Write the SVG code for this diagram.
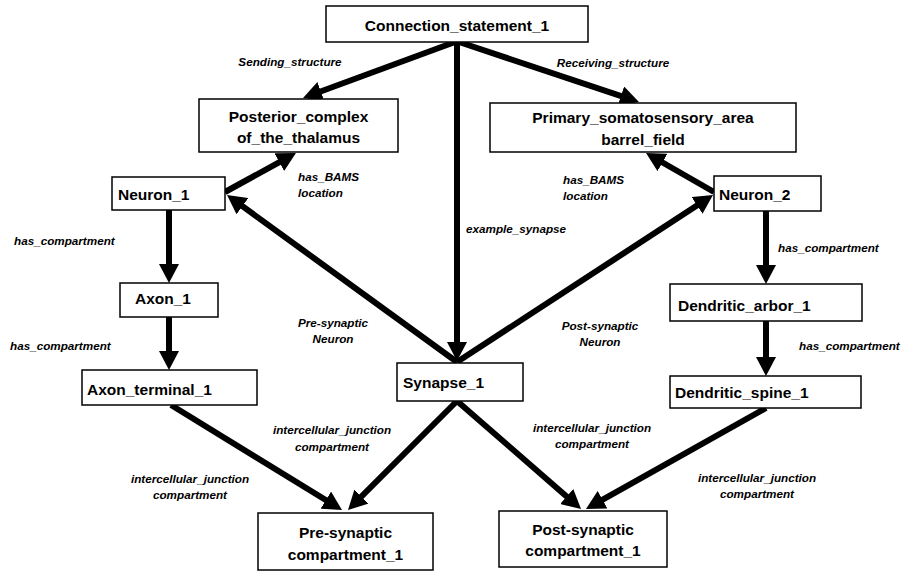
<svg xmlns="http://www.w3.org/2000/svg" width="902" height="572" viewBox="0 0 902 572">
<style>
.box{fill:#fff;stroke:#000;stroke-width:1.5}
.nt{font-family:"Liberation Sans",Arial,sans-serif;font-weight:bold;font-size:15.5px;fill:#000}
.c{text-anchor:middle}
.el{font-family:"Liberation Sans",Arial,sans-serif;font-weight:bold;font-style:italic;font-size:11.7px;fill:#000}
.e{stroke:#000;stroke-width:6;fill:none;marker-end:url(#ah)}
</style>
<defs>
<marker id="ah" markerUnits="userSpaceOnUse" markerWidth="20" markerHeight="20" refX="9" refY="10" orient="auto">
<path d="M0,0 L19,10 L0,20 z" fill="#000"/>
</marker>
</defs>
<g id="connectors">
<line class="e" x1="455" y1="42" x2="312.4" y2="94.5"/>
<line class="e" x1="459" y1="42" x2="629.5" y2="98.8"/>
<line class="e" x1="457" y1="42" x2="457" y2="351"/>
<line class="e" x1="225" y1="192" x2="287.2" y2="157.8"/>
<line class="e" x1="457" y1="362" x2="235.1" y2="200.9"/>
<line class="e" x1="714" y1="192" x2="654.7" y2="158"/>
<line class="e" x1="457" y1="362" x2="704.6" y2="200.5"/>
<line class="e" x1="169" y1="210" x2="169" y2="273"/>
<line class="e" x1="169" y1="317" x2="169" y2="360"/>
<line class="e" x1="766" y1="211" x2="766" y2="274"/>
<line class="e" x1="766" y1="321" x2="766" y2="366"/>
<line class="e" x1="171" y1="405" x2="333.5" y2="504.8"/>
<line class="e" x1="457" y1="401" x2="355.1" y2="502.9"/>
<line class="e" x1="457" y1="401" x2="573.5" y2="502.4"/>
<line class="e" x1="766" y1="408" x2="594.7" y2="504.1"/>
<text class="el c" x="290" y="66">Sending_structure</text>
<text class="el c" x="613" y="67">Receiving_structure</text>
<text class="el" x="298" y="181">has_BAMS</text>
<text class="el" x="298" y="197">location</text>
<text class="el" x="563" y="184">has_BAMS</text>
<text class="el" x="563" y="200">location</text>
<text class="el" x="466" y="233">example_synapse</text>
<text class="el" x="14" y="245">has_compartment</text>
<text class="el" x="10" y="350">has_compartment</text>
<text class="el" x="778" y="252">has_compartment</text>
<text class="el" x="799" y="350">has_compartment</text>
<text class="el c" x="333" y="327">Pre-synaptic</text>
<text class="el c" x="333" y="343">Neuron</text>
<text class="el c" x="600" y="330">Post-synaptic</text>
<text class="el c" x="600" y="346">Neuron</text>
<text class="el c" x="332" y="434">intercellular_junction</text>
<text class="el c" x="332" y="451">compartment</text>
<text class="el c" x="190" y="483">intercellular_junction</text>
<text class="el c" x="190" y="499">compartment</text>
<text class="el c" x="592" y="432">intercellular_junction</text>
<text class="el c" x="592" y="448">compartment</text>
<text class="el c" x="757" y="482">intercellular_junction</text>
<text class="el c" x="757" y="498">compartment</text>
</g>
<g id="connection_statement_1">
<rect class="box" x="326" y="6" width="262" height="36"/>
<text class="nt c" x="457" y="31">Connection_statement_1</text>
</g>
<g id="posterior_complex">
<rect class="box" x="199" y="99" width="199" height="53"/>
<text class="nt c" x="298.5" y="122">Posterior_complex</text>
<text class="nt c" x="298.5" y="143">of_the_thalamus</text>
</g>
<g id="primary_somatosensory">
<rect class="box" x="490" y="103" width="306" height="49"/>
<text class="nt c" x="643" y="123">Primary_somatosensory_area</text>
<text class="nt c" x="643" y="145">barrel_field</text>
</g>
<g id="neuron_1">
<rect class="box" x="112" y="177" width="113" height="33"/>
<text class="nt" x="118" y="200">Neuron_1</text>
</g>
<g id="neuron_2">
<rect class="box" x="714" y="176" width="107" height="35"/>
<text class="nt" x="719" y="200">Neuron_2</text>
</g>
<g id="axon_1">
<rect class="box" x="120" y="283" width="98" height="34"/>
<text class="nt" x="135" y="304">Axon_1</text>
</g>
<g id="axon_terminal_1">
<rect class="box" x="82" y="370" width="175" height="35"/>
<text class="nt" x="87" y="395">Axon_terminal_1</text>
</g>
<g id="synapse_1">
<rect class="box" x="397" y="363" width="126" height="38"/>
<text class="nt" x="403" y="388">Synapse_1</text>
</g>
<g id="dendritic_arbor_1">
<rect class="box" x="670" y="284" width="192" height="37"/>
<text class="nt" x="678" y="311">Dendritic_arbor_1</text>
</g>
<g id="dendritic_spine_1">
<rect class="box" x="670" y="376" width="191" height="32"/>
<text class="nt" x="675" y="398">Dendritic_spine_1</text>
</g>
<g id="pre_synaptic_compartment_1">
<rect class="box" x="258" y="513" width="175" height="57"/>
<text class="nt c" x="345.5" y="538">Pre-synaptic</text>
<text class="nt c" x="345.5" y="560">compartment_1</text>
</g>
<g id="post_synaptic_compartment_1">
<rect class="box" x="499" y="511" width="168" height="56"/>
<text class="nt c" x="583" y="535">Post-synaptic</text>
<text class="nt c" x="583" y="556">compartment_1</text>
</g>
</svg>
